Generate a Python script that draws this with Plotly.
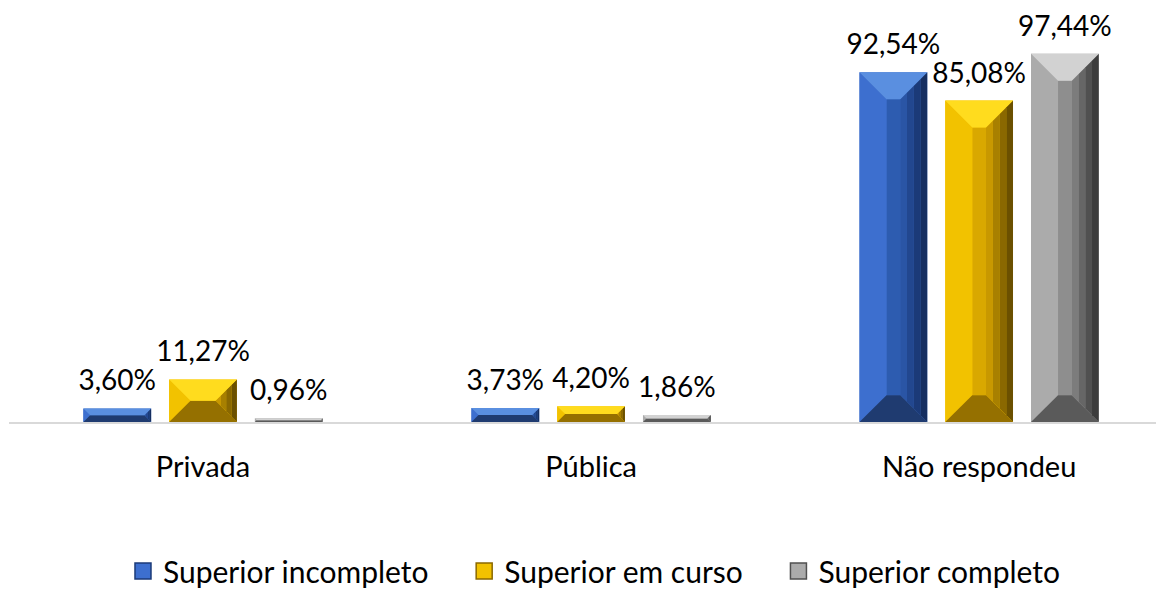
import plotly.graph_objects as go

categories = ["Privada", "Pública", "Não respondeu"]
series_names = ["Superior incompleto", "Superior em curso", "Superior completo"]
sup_incompleto = [3.60, 3.73, 92.54]
sup_em_curso = [11.27, 4.20, 85.08]
sup_completo = [0.96, 1.86, 97.44]
series_values = [sup_incompleto, sup_em_curso, sup_completo]

# styles
W, H = 1164, 589
ML, MR, MT, MB = 1, 0, 12, 173
X_RANGE = [-0.5, 2.497]
Y_RANGE = [0, 106.4]
BARGAP = 0.337
GROUPGAP = 0.21
BEVEL_PX = 27
FONT = "Lato"
NBSP = "\u00a0"

palettes = [
    dict(base="#3f6fc6", top="#5a8fe0", left="#3d6fcf", inner="#2d5cb0",
         right=["#2a55a5", "#22478f", "#1b3a78", "#152e60"], bottom="#1f3b70"),
    dict(base="#f5c000", top="#ffdc1e", left="#f2c200", inner="#d9a800",
         right=["#c89800", "#a88000", "#8a6800", "#6b5000"], bottom="#957000"),
    dict(base="#a5a5a5", top="#d2d2d2", left="#ababab", inner="#8e8e8e",
         right=["#7c7c7c", "#666666", "#505050", "#3c3c3c"], bottom="#5a5a5a"),
]

plot_w = W - ML - MR
plot_h = H - MT - MB
px_x = plot_w / (X_RANGE[1] - X_RANGE[0])
px_y = plot_h / (Y_RANGE[1] - Y_RANGE[0])
nser = len(series_values)
slot = (1 - BARGAP) / nser
bw = slot * (1 - GROUPGAP)

def centers(j):
    return [i - (1 - BARGAP) / 2 + slot * (j + 0.5) for i in range(len(categories))]

fig = go.Figure()
for j, (name, vals) in enumerate(zip(series_names, series_values)):
    fig.add_trace(go.Bar(
        name=name, x=list(range(len(categories))), y=vals,
        marker=dict(color=palettes[j]["base"], line=dict(width=0)),
        showlegend=False, hoverinfo="skip",
    ))

# data labels above bars
for j, vals in enumerate(series_values):
    fig.add_trace(go.Scatter(
        x=centers(j), y=vals, mode="markers+text",
        text=[f"{v:.2f}%".replace(".", ",") for v in vals],
        textposition="top center", cliponaxis=False,
        marker=dict(size=16, opacity=0),
        textfont=dict(family=FONT, size=28, color="#000000"),
        showlegend=False, hoverinfo="skip",
    ))

# legend entries
for j, name in enumerate(series_names):
    pal = palettes[j]
    label = name + (NBSP * 4 if j < len(series_names) - 1 else "")
    fig.add_trace(go.Scatter(
        x=[None], y=[None], mode="markers", name=label,
        marker=dict(symbol="square", size=16, color=pal["left"],
                    line=dict(color=pal["right"][2], width=1.5)),
    ))

shapes = []

def poly(pts, color):
    path = "M " + " L ".join(f"{x},{y}" for x, y in pts) + " Z"
    shapes.append(dict(type="path", path=path, xref="x", yref="y",
                       fillcolor=color, line=dict(width=0), layer="above"))

for j, vals in enumerate(series_values):
    pal = palettes[j]
    for c, v in zip(centers(j), vals):
        L, R, T = c - bw / 2, c + bw / 2, v
        dy = min(BEVEL_PX / px_y, T / 2)
        dx = min(dy * px_y / px_x, bw / 2 * 0.8)
        poly([(L + dx, dy), (R - dx, dy), (R - dx, T - dy), (L + dx, T - dy)], pal["inner"])
        poly([(L, 0), (L, T), (L + dx, T - dy), (L + dx, dy)], pal["left"])
        n = len(pal["right"])
        for k in range(n):
            xa = R - dx + dx * k / n
            xb = R - dx + dx * (k + 1) / n
            fa, fb = k / n, (k + 1) / n
            poly([(xa, dy - fa * dy), (xb, dy - fb * dy),
                  (xb, T - dy + fb * dy), (xa, T - dy + fa * dy)], pal["right"][k])
        poly([(L, 0), (R, 0), (R - dx, dy), (L + dx, dy)], pal["bottom"])
        poly([(L, T), (R, T), (R - dx, T - dy), (L + dx, T - dy)], pal["top"])

fig.update_layout(
    width=W, height=H,
    margin=dict(l=ML, r=MR, t=MT, b=MB),
    paper_bgcolor="white", plot_bgcolor="white",
    barmode="group", bargap=BARGAP, bargroupgap=GROUPGAP,
    font=dict(family=FONT, color="#000000"),
    shapes=shapes,
    showlegend=True,
    legend=dict(orientation="h", x=0.503, xanchor="center", y=-0.371, yanchor="middle",
                font=dict(family=FONT, size=30, color="#000000"),
                itemwidth=30, traceorder="normal"),
    xaxis=dict(range=X_RANGE, tickmode="array", tickvals=list(range(len(categories))),
               ticktext=categories, showline=True, linecolor="#d9d9d9", linewidth=1.5,
               showgrid=False, zeroline=False, ticks="", ticklabelstandoff=18,
               tickfont=dict(family=FONT, size=29, color="#000000")),
    yaxis=dict(range=Y_RANGE, visible=False, showgrid=False, zeroline=False),
)

fig.write_html("out.html")
